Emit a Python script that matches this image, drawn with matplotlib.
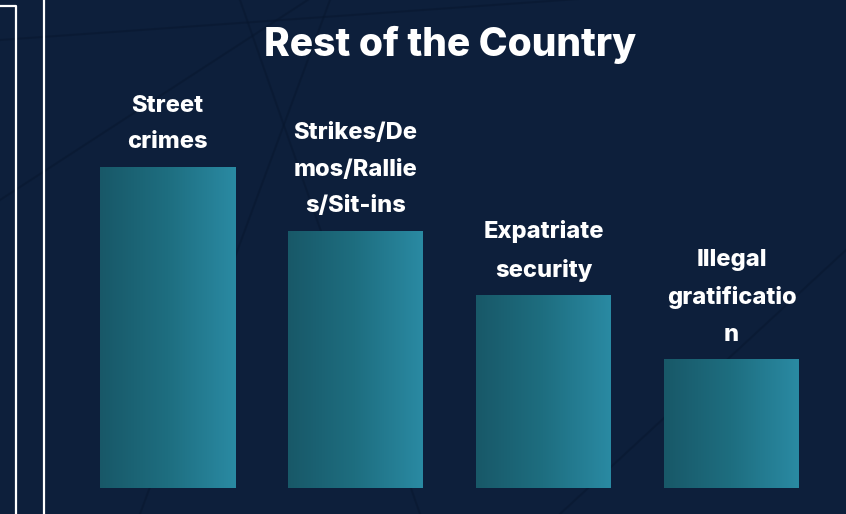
import matplotlib
matplotlib.use("Agg")
import matplotlib.pyplot as plt
import numpy as np
from matplotlib.colors import LinearSegmentedColormap
from matplotlib.lines import Line2D

# ---- data ----
categories = ["Street\ncrimes", "Strikes/De\nmos/Rallie\ns/Sit-ins", "Expatriate\nsecurity", "Illegal\ngratificatio\nn"]
values = [5, 4, 3, 2]
title = "Rest of the Country"

BG = "#0d1f3b"
W, H = 846, 514
fig = plt.figure(figsize=(W / 100, H / 100), dpi=100, facecolor=BG)

# background decoration axes
bg = fig.add_axes([0, 0, 1, 1])
bg.set_xlim(0, W); bg.set_ylim(H, 0); bg.axis("off")
bg.set_facecolor(BG)
deco = [((0, 40), (846, -20)), ((0, 200), (400, -60)), ((140, 514), (330, 0)),
        ((240, 0), (420, 514)), ((560, 514), (846, 250))]
for (x0, y0), (x1, y1) in deco:
    bg.add_line(Line2D([x0, x1], [y0, y1], color="#08172e", lw=1.5, alpha=0.5))
# white frame lines on the left
bg.add_line(Line2D([0, 16, 16], [6, 6, 514], color="white", lw=1.6))
bg.add_line(Line2D([44, 44], [0, 514], color="white", lw=1.6))

fig.text(450 / W, 1 - 45 / H, title, color="white", fontsize=28, fontweight="heavy",
         family="Inter", ha="center", va="center")

# main axes: x centre 0 at px 167.5, spacing 188
left = (167.5 - 94) / W
width = 188 * 4 / W
bottom = (H - 488) / H
height = 321 / H
ax = fig.add_axes([left, bottom, width, height])
ax.axis("off")
ax.patch.set_alpha(0)

cmap = LinearSegmentedColormap.from_list("tealgrad", ["#185868", "#1e6e80", "#2a8aa3"])
grad = np.linspace(0, 1, 256).reshape(1, -1)
bw = 135 / 188
x = np.arange(len(categories))
bars = ax.bar(x, values, width=bw, color="none", edgecolor="none")
for i, (b, v) in enumerate(zip(bars, values)):
    ax.imshow(grad, cmap=cmap, aspect="auto",
              extent=(b.get_x(), b.get_x() + b.get_width(), 0, v), zorder=2)
    ax.annotate(categories[i], (b.get_x() + b.get_width() / 2, v),
                xytext=(0, 10), textcoords="offset points", ha="center", va="bottom",
                color="white", fontsize=17, fontweight="heavy", family="Inter",
                linespacing=1.85, annotation_clip=False)
ax.set_xlim(-0.5, 3.5)
ax.set_ylim(0, 5)

fig.savefig("out.png", dpi=100, facecolor=BG)
